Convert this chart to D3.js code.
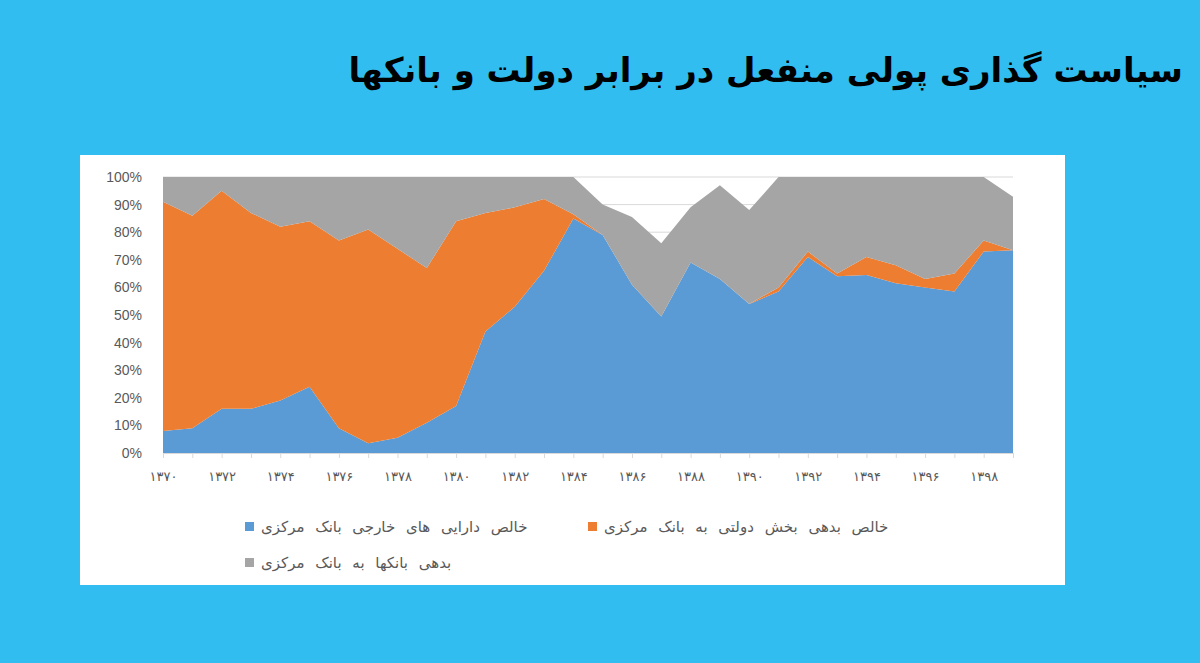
<!DOCTYPE html>
<html>
<head>
<meta charset="utf-8">
<script src="https://cdn.jsdelivr.net/npm/d3@7"></script>
<style>
  body { margin: 0; background: #31bdf0; }
  svg { display: block; }
</style>
</head>
<body>
<svg id="chart" width="1200" height="663"></svg>
<script>
// years 1370..1399
const years = d3.range(1370, 1400);
// share of central bank net foreign assets (blue)
const foreignAssets = [8, 9, 16, 16, 19, 24, 9, 3.5, 5.5, 11, 17, 44, 53, 66, 85, 79, 61, 49.5, 69, 63, 54, 58.5, 71, 64, 64.5, 61.5, 60, 58.5, 73, 73.5];
// net government debt to central bank (orange)
const govDebt = [83, 77, 79, 71, 63, 60, 68, 77.5, 68.5, 56, 67, 43, 36, 26, 1.5, 0, 0, 0, 0, 0, 0, 1.5, 2, 1, 6.5, 6.5, 3, 6.5, 4, 0];
// bank debt to central bank (grey)
const bankDebt = [9, 14, 5, 13, 18, 16, 23, 19, 26, 33, 16, 13, 11, 8, 13.5, 11, 24.5, 26.5, 20, 34, 34, 40, 27, 35, 29, 32, 37, 35, 23, 19.3];

const seriesNames = ['خالص دارایی های خارجی بانک مرکزی', 'خالص بدهی بخش دولتی به بانک مرکزی', 'بدهی بانکها به بانک مرکزی'];
const colors = ['#5b9bd5', '#ed7d31', '#a5a5a5'];
const yTicks = d3.range(0, 101, 10);

const faDigits = s => String(s).replace(/\d/g, d => '۰۱۲۳۴۵۶۷۸۹'[d]);

const svg = d3.select('#chart');

svg.append('text')
  .attr('x', 1183).attr('y', 82)
  .attr('text-anchor', 'end')
  .attr('font-family', 'DejaVu Sans, Noto Sans, sans-serif')
  .attr('font-weight', 'bold')
  .attr('font-size', 34)
  .attr('fill', '#000')
  .text('سیاست گذاری پولی منفعل در برابر دولت و بانکها');

// white card
svg.append('rect')
  .attr('x', 80).attr('y', 155).attr('width', 985).attr('height', 430)
  .attr('fill', '#fff');

const x = d3.scaleLinear().domain([1370, 1399]).range([163, 1013]);
const y = d3.scaleLinear().domain([0, 100]).range([453, 177]);

// gridlines
svg.append('g').selectAll('line').data(yTicks).enter().append('line')
  .attr('x1', 163).attr('x2', 1013)
  .attr('y1', d => y(d)).attr('y2', d => y(d))
  .attr('stroke', '#d9d9d9').attr('stroke-width', 1);

const table = years.map((yr, i) => ({ year: yr, a: foreignAssets[i], b: govDebt[i], c: bankDebt[i] }));
const stacked = d3.stack().keys(['a', 'b', 'c'])(table);

const area = d3.area()
  .x(d => x(d.data.year))
  .y0(d => y(d[0]))
  .y1(d => y(d[1]));

svg.append('g').selectAll('path').data(stacked).enter().append('path')
  .attr('d', area)
  .attr('fill', (d, i) => colors[i]);

// y axis labels
svg.append('g').selectAll('text').data(yTicks).enter().append('text')
  .attr('x', 142).attr('y', d => y(d) + 5)
  .attr('text-anchor', 'end')
  .attr('font-family', 'Liberation Sans, Arial, sans-serif')
  .attr('font-size', 14)
  .attr('fill', '#595959')
  .text(d => d + '%');

// x axis
const xAxis = d3.axisBottom(x)
  .tickValues(years)
  .tickSize(5)
  .tickFormat(d => (d % 2 === 0 ? faDigits(d) : ''));
const gx = svg.append('g').attr('transform', 'translate(0,453)').call(xAxis);
gx.select('.domain').attr('stroke', '#d9d9d9');
gx.selectAll('.tick line').attr('stroke', '#d9d9d9');
gx.selectAll('.tick text')
  .attr('dy', 20)
  .attr('font-family', 'DejaVu Sans, sans-serif')
  .attr('font-size', 13)
  .attr('fill', '#595959');

// legend
const legendPos = [[245, 527], [588, 527], [245, 563]];
const lg = svg.append('g').selectAll('g').data(seriesNames).enter().append('g')
  .attr('transform', (d, i) => `translate(${legendPos[i][0]},${legendPos[i][1]})`);
lg.append('rect').attr('x', 0).attr('y', -5).attr('width', 9).attr('height', 9)
  .attr('fill', (d, i) => colors[i]);
lg.append('text').attr('x', 16).attr('y', 5)
  .attr('font-family', 'DejaVu Sans, sans-serif')
  .attr('font-size', 15)
  .attr('word-spacing', 6)
  .attr('fill', '#595959')
  .text(d => d);
</script>
</body>
</html>
